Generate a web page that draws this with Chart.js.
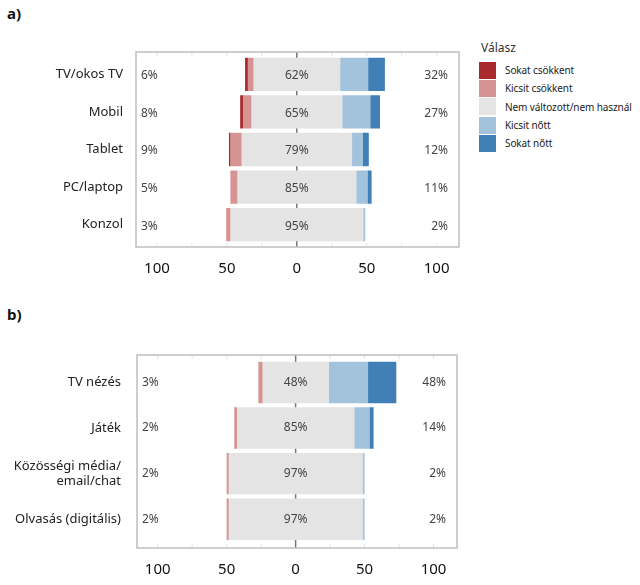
<!DOCTYPE html>
<html>
<head>
<meta charset="utf-8">
<script src="https://cdn.jsdelivr.net/npm/chart.js@4.4.1/dist/chart.umd.min.js"></script>
<style>
  body { margin: 0; background: #fff; width: 640px; height: 585px; position: relative; overflow: hidden; font-family: "Noto Sans", sans-serif; }
  .panel { position: absolute; left: 7px; font-weight: bold; font-size: 15px; color: #111; }
  .wrap { position: absolute; left: 0; }
  #legend { position: absolute; left: 479px; top: 39px; color: #222; white-space: nowrap; }
  #legend .title { font-size: 12px; margin: 0 0 5px 2px; color: #333; }
  #legend .item { display: flex; align-items: center; height: 18.3px; font-size: 10px; letter-spacing: -0.1px; }
  #legend .box { width: 17px; height: 17px; margin-right: 9px; flex: none; }
</style>
</head>
<body>
<div class="panel" style="top:3px">a)</div>
<div class="panel" style="top:304px">b)</div>
<div class="wrap" style="top:0"><canvas id="chartA" width="470" height="290"></canvas></div>
<div class="wrap" style="top:295px"><canvas id="chartB" width="470" height="290"></canvas></div>
<div id="legend"></div>
<script>
// response categories (legend order)
const responses = ['Sokat csökkent', 'Kicsit csökkent', 'Nem változott/nem használ', 'Kicsit nőtt', 'Sokat nőtt'];
const colors = ['#a9292c', '#d59392', '#e4e4e4', '#a3c2dc', '#4180b6'];

// a) devices
const catsA = ['TV/okos TV', 'Mobil', 'Tablet', 'PC/laptop', 'Konzol'];
const sokatCsokA = [2, 2, 1, 0, 0];
const kicsitCsokA = [4, 6, 8, 5, 3];
const nemValtA = [62, 65, 79, 85, 95];
const kicsitNottA = [20, 20, 7.5, 8, 1.5];
const sokatNottA = [12, 7, 4.5, 3, 0];
const negLabelsA = [6, 8, 9, 5, 3];
const posLabelsA = [32, 27, 12, 11, 2];

// b) activities
const catsB = ['TV nézés', 'Játék', ['Közösségi média/', 'email/chat'], 'Olvasás (digitális)'];
const sokatCsokB = [0, 0, 0, 0];
const kicsitCsokB = [3, 2, 1.5, 1.5];
const nemValtB = [48, 85, 97, 97];
const kicsitNottB = [28.5, 11, 1.5, 1.5];
const sokatNottB = [20.5, 3, 0, 0];
const negLabelsB = [3, 2, 2, 2];
const posLabelsB = [48, 14, 2, 2];

const tickVals = [-100, -50, 0, 50, 100];
const minorTicks = [-100, -75, -50, -25, 0, 25, 50, 75, 100];

// diverging layout: neutral centred on 0
function floating(sc, kc, n, kn, sn) {
  const s = [[], [], [], [], []];
  n.forEach((v, i) => {
    const h = v / 2;
    s[0].push([-h - kc[i] - sc[i], -h - kc[i]]);
    s[1].push([-h - kc[i], -h]);
    s[2].push([-h, h]);
    s[3].push([h, h + kn[i]]);
    s[4].push([h + kn[i], h + kn[i] + sn[i]]);
  });
  return s;
}

const frame = {
  id: 'frame',
  beforeDatasetsDraw(chart, args, o) {
    const { ctx, chartArea: a, scales: { x } } = chart;
    const top = a.top - o.padTop, bottom = a.bottom + o.padBottom;
    ctx.save();
    ctx.strokeStyle = '#e3e3e3';
    ctx.lineWidth = 1;
    minorTicks.forEach(v => {
      const px = x.getPixelForValue(v);
      ctx.beginPath();
      ctx.moveTo(px, top); ctx.lineTo(px, top + 4);
      ctx.moveTo(px, bottom); ctx.lineTo(px, bottom - 4);
      ctx.stroke();
    });
    const zx = x.getPixelForValue(0);
    ctx.strokeStyle = '#777';
    ctx.lineWidth = 1.5;
    ctx.beginPath(); ctx.moveTo(zx, top); ctx.lineTo(zx, bottom); ctx.stroke();
    ctx.restore();
  },
  afterDatasetsDraw(chart, args, o) {
    const { ctx, chartArea: a, scales: { x, y } } = chart;
    const top = a.top - o.padTop, bottom = a.bottom + o.padBottom;
    ctx.save();
    ctx.strokeStyle = '#bfbfbf';
    ctx.lineWidth = 1.5;
    ctx.strokeRect(a.left, top, a.right - a.left, bottom - top);
    ctx.font = '12px "Noto Sans", sans-serif';
    ctx.fillStyle = '#444';
    ctx.textBaseline = 'middle';
    o.neg.forEach((v, i) => {
      const py = y.getPixelForValue(i) + o.shift;
      ctx.textAlign = 'left';
      ctx.fillText(v + '%', a.left + 5, py);
      ctx.textAlign = 'center';
      ctx.fillText(o.mid[i] + '%', x.getPixelForValue(0), py);
      ctx.textAlign = 'right';
      ctx.fillText(o.pos[i] + '%', a.right - 11, py);
    });
    ctx.restore();
  }
};

function makeChart(id, cats, parts, labels, lay) {
  const series = floating(...parts);
  return new Chart(document.getElementById(id), {
    type: 'bar',
    data: {
      labels: cats,
      datasets: responses.map((r, k) => ({
        label: r,
        data: series[k],
        backgroundColor: colors[k],
        borderWidth: 0,
        grouped: false,
        barPercentage: lay.barPct,
        categoryPercentage: 1
      }))
    },
    options: {
      responsive: false,
      animation: false,
      indexAxis: 'y',
      layout: { padding: { top: lay.top, bottom: lay.bottom, left: 0, right: lay.right } },
      plugins: {
        legend: { display: false },
        tooltip: { enabled: false },
        frame: { padTop: lay.frameTop, padBottom: lay.frameBottom, shift: lay.shift, neg: labels[0], mid: labels[1], pos: labels[2] }
      },
      scales: {
        x: {
          min: lay.min, max: lay.max,
          afterBuildTicks: s => { s.ticks = tickVals.map(v => ({ value: v })); },
          afterFit: s => { s.height = 40; },
          ticks: { callback: v => Math.abs(v), font: { size: 15, family: '"Noto Sans", sans-serif' }, color: '#111', padding: lay.tickPad, maxRotation: 0 },
          grid: { display: false, drawTicks: false },
          border: { display: false }
        },
        y: {
          afterFit: s => { s.width = lay.yWidth; },
          ticks: { font: { size: 13, family: '"Noto Sans", sans-serif' }, color: '#222', padding: lay.yPad },
          grid: { display: false, drawTicks: false },
          border: { display: false }
        }
      }
    },
    plugins: [frame]
  });
}

makeChart('chartA', catsA, [sokatCsokA, kicsitCsokA, nemValtA, kicsitNottA, sokatNottA], [negLabelsA, nemValtA, posLabelsA],
  { barPct: 0.886, top: 55.5, bottom: 6.5, right: 11, yWidth: 136, yPad: 13, min: -115, max: 116, frameTop: 3.5, frameBottom: 3.5, tickPad: 16, shift: 1.5 });
makeChart('chartB', catsB, [sokatCsokB, kicsitCsokB, nemValtB, kicsitNottB, sokatNottB], [negLabelsB, nemValtB, posLabelsB],
  { barPct: 0.91, top: 64.7, bottom: 3, right: 13, yWidth: 137, yPad: 16, min: -115, max: 117, frameTop: 4.7, frameBottom: 6, tickPad: 19, shift: 0 });

// legend for panel a
const legend = document.getElementById('legend');
legend.innerHTML = '<div class="title">Válasz</div>' + responses.map((r, k) =>
  '<div class="item"><div class="box" style="background:' + colors[k] + '"></div>' + r + '</div>').join('');
</script>
</body>
</html>
